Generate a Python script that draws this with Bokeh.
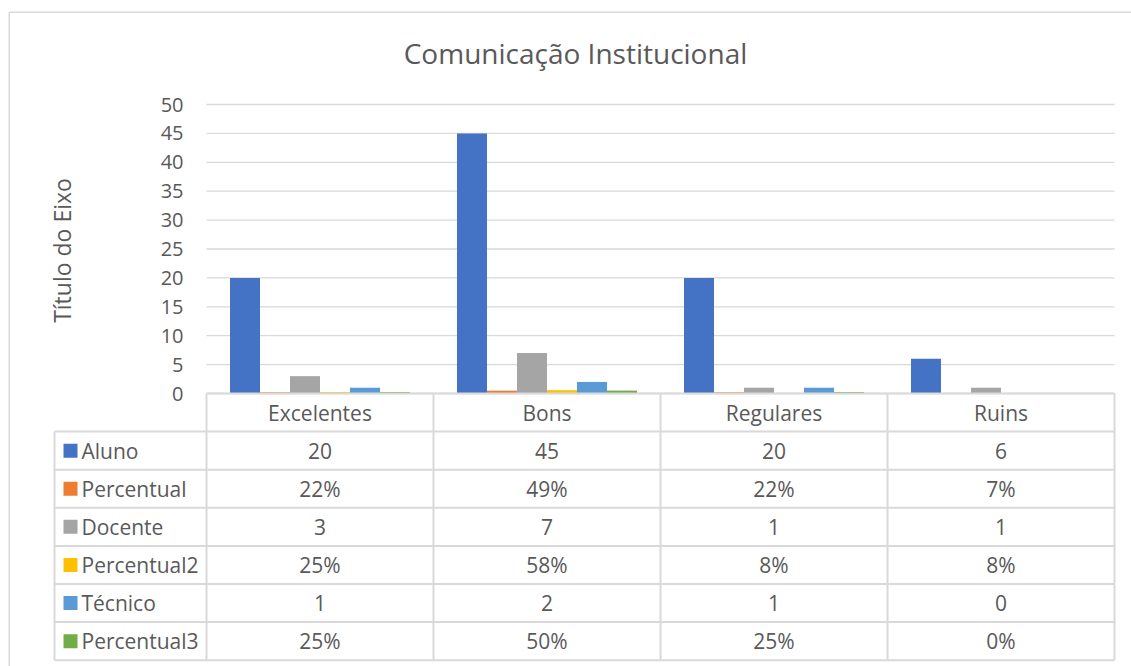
from bokeh.plotting import figure
from bokeh.models import Range1d, ColumnDataSource
from bokeh.core.properties import value
from bokeh.embed import file_html
from bokeh.resources import INLINE

# ---------------- data ----------------
categories = ["Excelentes", "Bons", "Regulares", "Ruins"]
series_names = ["Aluno", "Percentual", "Docente", "Percentual2", "Técnico", "Percentual3"]
aluno = [20, 45, 20, 6]
percentual = [0.22, 0.49, 0.22, 0.07]
docente = [3, 7, 1, 1]
percentual2 = [0.25, 0.58, 0.08, 0.08]
tecnico = [1, 2, 1, 0]
percentual3 = [0.25, 0.50, 0.25, 0.0]
y_ticks = [0, 5, 10, 15, 20, 25, 30, 35, 40, 45, 50]
title_text = "Comunicação Institucional"
y_title = "Título do Eixo"

series_values = [aluno, percentual, docente, percentual2, tecnico, percentual3]
is_percent = [False, True, False, True, False, True]
colors = ["#4472C4", "#ED7D31", "#A5A5A5", "#FFC000", "#5B9BD5", "#70AD47"]

# ---------------- layout helpers (pixel -> data) ----------------
W, H = 1131, 666
PAGE = 0
X_ORIGIN, X_SCALE = 206, 227.0   # page px of x=-0.5, px per category
Y_ORIGIN, Y_SCALE = 393, 5.78    # page px of y=0, px per unit


def xd(px):
    return -0.5 + (px - X_ORIGIN) / X_SCALE


def yd(py):
    return (Y_ORIGIN - py) / Y_SCALE


p = figure(width=W, height=H, output_backend="svg", toolbar_location=None,
           x_range=Range1d(xd(PAGE), xd(PAGE + W)),
           y_range=Range1d(yd(PAGE + H), yd(PAGE)),
           x_axis_location=None, y_axis_location=None, title=None,
           min_border=0, min_border_left=0, min_border_right=0,
           min_border_top=0, min_border_bottom=0)
p.grid.visible = False
p.outline_line_color = None
p.background_fill_color = "white"
p.border_fill_color = "white"

FONT = value("Open Sans")
TXT = "#595959"
LINE = "#d9d9d9"
n_cat = len(categories)
left_edge = -0.5
right_edge = n_cat - 0.5

# chart border (top and left visible)
bx = xd(8.75)
by = yd(11.75)
p.segment(x0=[bx, bx], y0=[by, by], x1=[bx, xd(PAGE + W)], y1=[yd(PAGE + H), by],
          line_color=LINE, line_width=1.5)

# gridlines
p.segment(x0=[left_edge] * len(y_ticks), x1=[right_edge] * len(y_ticks),
          y0=y_ticks, y1=y_ticks, line_color=LINE, line_width=1.3)

# tick labels
p.text(x=[left_edge] * len(y_ticks), y=y_ticks, text=[str(t) for t in y_ticks],
       x_offset=-23, text_align="right", text_baseline="middle",
       text_font=FONT, text_font_size=value("20px"), text_color=TXT)

# y-axis title
p.text(x=[xd(61)], y=[yd(250)], text=[y_title], angle=1.5707963,
       text_align="center", text_baseline="middle",
       text_font=FONT, text_font_size=value("23px"), text_color=TXT)

# title
p.text(x=[xd(575)], y=[yd(52)], text=[title_text],
       text_align="center", text_baseline="middle",
       text_font=FONT, text_font_size=value("28px"), text_color=TXT)

# bars
n_ser = len(series_names)
bar_w = 30.0 / X_SCALE
for s, (vals, col) in enumerate(zip(series_values, colors)):
    off = (s - (n_ser - 1) / 2.0) * bar_w
    src = ColumnDataSource(dict(x=[i + off for i in range(n_cat)], top=vals))
    p.vbar(x="x", top="top", bottom=0, width=bar_w, source=src,
           fill_color=col, line_color=None)

# ---------------- data table ----------------
row_h = 38.1
line_px = [Y_ORIGIN + row_h * k for k in range(n_ser + 2)]
line_y = [yd(v) for v in line_px]
tbl_left = xd(54)

# horizontal lines
hx0 = [left_edge] + [tbl_left] * (len(line_y) - 1)
hx1 = [right_edge] * len(line_y)
p.segment(x0=hx0, x1=hx1, y0=line_y, y1=line_y, line_color=LINE, line_width=2)
# vertical lines
vx = [tbl_left] + [left_edge + i for i in range(n_cat + 1)]
vy0 = [line_y[1]] + [line_y[0]] * (n_cat + 1)
vy1 = [line_y[-1]] * (n_cat + 2)
p.segment(x0=vx, x1=vx, y0=vy0, y1=vy1, line_color=LINE, line_width=2)

# header (category labels)
hdr_y = (line_y[0] + line_y[1]) / 2.0
p.text(x=list(range(n_cat)), y=[hdr_y] * n_cat, text=categories,
       text_align="center", text_baseline="middle",
       text_font=FONT, text_font_size=value("21px"), text_color=TXT)

row_centers = [(line_y[k + 1] + line_y[k + 2]) / 2.0 for k in range(n_ser)]

# legend keys + series names
p.scatter(x=[xd(70)] * n_ser, y=row_centers, marker="square", size=14,
          fill_color=colors, line_color=None)
p.text(x=[xd(81)] * n_ser, y=row_centers, text=series_names,
       text_align="left", text_baseline="middle",
       text_font=FONT, text_font_size=value("21px"), text_color=TXT)

# cell values
cx, cy, ct = [], [], []
for s, vals in enumerate(series_values):
    for i, v in enumerate(vals):
        cx.append(i)
        cy.append(row_centers[s])
        ct.append(f"{round(v * 100)}%" if is_percent[s] else str(v))
p.text(x=cx, y=cy, text=ct, text_align="center", text_baseline="middle",
       text_font=FONT, text_font_size=value("21px"), text_color=TXT)

open("out.html", "w").write(file_html(p, INLINE))
